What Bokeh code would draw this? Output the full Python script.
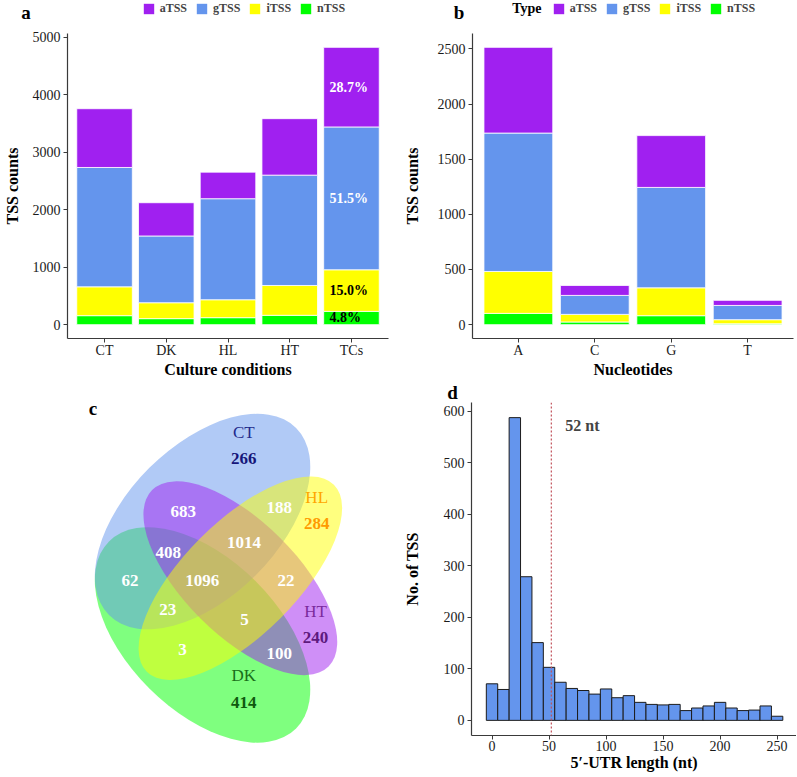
from bokeh.plotting import figure
from bokeh.models import (ColumnDataSource, FactorRange, Range1d, Legend, LegendItem,
                          Label, Span, SingleIntervalTicker)
from bokeh.layouts import row, column
from bokeh.embed import file_html
from bokeh.resources import INLINE
from bokeh.core.properties import value

FONT = "Liberation Serif"
TYPES = ["aTSS", "gTSS", "iTSS", "nTSS"]
TYPE_COLORS = {"aTSS": "#A020F0", "gTSS": "#6495ED", "iTSS": "#FFFF00", "nTSS": "#00FF00"}

# ---------------- panel a data ----------------
conditions = ["CT", "DK", "HL", "HT", "TCs"]
a_nTSS = [156, 104, 121, 162, 231]
a_iTSS = [502, 277, 312, 519, 723]
a_gTSS = [2075, 1161, 1757, 1919, 2484]
a_aTSS = [1022, 578, 462, 982, 1384]
tcs_pct = {"aTSS": "28.7%", "gTSS": "51.5%", "iTSS": "15.0%", "nTSS": "4.8%"}

# ---------------- panel b data ----------------
nucleotides = ["A", "C", "G", "T"]
b_nTSS = [102, 24, 81, 8]
b_iTSS = [380, 69, 253, 37]
b_gTSS = [1255, 172, 910, 129]
b_aTSS = [777, 90, 470, 46]

# ---------------- panel c data ----------------
venn_names = ["DK", "CT", "HT", "HL"]
venn_colors = ["#00FF00", "#6495ED", "#A020F0", "#FFFF00"]
venn_cx = [0.47, 0.47, 0.57, 0.57]
venn_cy = [0.35, 0.65, 0.50, 0.50]
venn_semi_a = [0.35, 0.35, 0.33, 0.35]
venn_semi_b = [0.20, 0.20, 0.15, 0.15]
venn_angle = [135, 45, 135, 45]
venn_cat_x = [0.579, 0.772, 0.769, 0.579]
venn_cat_y = [0.886, 0.713, 0.412, 0.242]
venn_cat_text = ["CT", "HL", "HT", "DK"]
venn_cat_color = ["#1f2a8c", "#FFA500", "#7b2a9c", "#1a6e1a"]
venn_uniq_y = [0.816, 0.644, 0.342, 0.170]
venn_uniq_text = ["266", "284", "240", "414"]
venn_uniq_color = ["#16167a", "#FF9A00", "#5e1a7e", "#0f5a0f"]
venn_num_text = ["683", "188", "1014", "408", "62", "1096", "22", "23", "5", "3", "100"]
venn_num_x = [0.419, 0.673, 0.580, 0.379, 0.278, 0.469, 0.691, 0.378, 0.581, 0.417, 0.673]
venn_num_y = [0.677, 0.687, 0.595, 0.569, 0.494, 0.494, 0.494, 0.417, 0.392, 0.312, 0.302]

# ---------------- panel d data ----------------
utr_bin_centers = [0, 10, 20, 30, 40, 50, 60, 70, 80, 90, 100, 110, 120, 130, 140, 150,
                   160, 170, 180, 190, 200, 210, 220, 230, 240, 250]
utr_counts = [71, 60, 588, 279, 151, 103, 74, 62, 58, 51, 61, 44, 48, 35, 31, 30,
              31, 19, 24, 28, 35, 24, 19, 20, 28, 8]
binwidth = 10
median_utr = 52


def blank(p):
    p.xgrid.grid_line_color = None
    p.ygrid.grid_line_color = None
    p.outline_line_color = None
    p.background_fill_color = "white"
    p.border_fill_color = "white"


def style_axes(p, xstand=0, ystand=3, xlab_stand=0, ylab_stand=0):
    for ax in p.axis:
        ax.axis_line_color = "#3a3a3a"
        ax.axis_line_width = 1.2
        ax.major_tick_line_color = "#3a3a3a"
        ax.major_tick_line_width = 1
        ax.major_tick_in = 0
        ax.major_tick_out = 4
        ax.minor_tick_line_color = None
        ax.major_label_text_font = FONT
        ax.major_label_text_font_size = "14px"
        ax.major_label_text_color = "#1a1a1a"
        ax.axis_label_text_font = FONT
        ax.axis_label_text_font_style = "bold"
        ax.axis_label_text_font_size = "16px"
        ax.axis_label_text_color = "black"
    p.xaxis.major_label_standoff = xstand
    p.yaxis.major_label_standoff = ystand
    p.xaxis.axis_label_standoff = xlab_stand
    p.yaxis.axis_label_standoff = ylab_stand
    blank(p)


def header(width, height, letter, letter_x, letter_y, legend_x=None, legend_y=None,
           legend_title=None, title_x=None, title_y=None):
    h = figure(width=width, height=height, x_range=FactorRange(factors=TYPES),
               y_range=Range1d(0, 1), output_backend="svg", toolbar_location=None,
               x_axis_location=None, y_axis_location=None, min_border=0, frame_align=False)
    blank(h)
    h.add_layout(Label(x=letter_x, y=letter_y, x_units="screen", y_units="screen",
                       text=letter, text_font=FONT, text_font_style="bold",
                       text_font_size="19px", text_baseline="alphabetic", text_color="black"))
    if legend_title:
        h.add_layout(Label(x=title_x, y=title_y, x_units="screen", y_units="screen",
                           text=legend_title, text_font=FONT, text_font_style="bold",
                           text_font_size="14px", text_baseline="alphabetic",
                           text_color="black"))
    if legend_x is not None:
        # zero-height bars: only their colours are used, by the legend swatches
        src = ColumnDataSource(dict(t=TYPES, v=[0] * len(TYPES),
                                    c=[TYPE_COLORS[t] for t in TYPES]))
        r = h.vbar(x="t", top="v", width=0.5, source=src, fill_color="c", line_color="white",
                   line_alpha=0, line_width=0.8)
        items = [LegendItem(label=t, renderers=[r], index=k) for k, t in enumerate(TYPES)]
        lg = Legend(items=items, orientation="horizontal", location=(legend_x, legend_y),
                    glyph_width=13, glyph_height=13, label_height=13, label_width=10,
                    label_standoff=5, spacing=8, padding=0, margin=0,
                    label_text_font=FONT, label_text_font_style="bold",
                    label_text_font_size="12px", label_text_baseline="middle",
                    background_fill_alpha=0, border_line_alpha=0)
        h.add_layout(lg, "center")
    return h


def stacked_panel(cats, n, i, g, a, width, height, mb_left, mb_right, xlabel, ylabel,
                  tick_interval, ylab_stand):
    totals = [w + x + y + z for w, x, y, z in zip(n, i, g, a)]
    tmax = max(totals)
    p = figure(width=width, height=height,
               x_range=FactorRange(factors=cats, range_padding=0.1, range_padding_units="absolute"),
               y_range=Range1d(-0.05 * tmax, 1.05 * tmax),
               output_backend="svg", toolbar_location=None, frame_align=False,
               min_border_left=mb_left, min_border_right=mb_right,
               min_border_top=9, min_border_bottom=41)
    src = ColumnDataSource(dict(x=cats, nTSS=n, iTSS=i, gTSS=g, aTSS=a))
    stack = ["nTSS", "iTSS", "gTSS", "aTSS"]
    p.vbar_stack(stack, x="x", width=0.9, source=src,
                 fill_color=[TYPE_COLORS[s] for s in stack],
                 line_color="white", line_width=0.8)
    style_axes(p, ylab_stand=ylab_stand)
    p.xaxis.axis_label = xlabel
    p.yaxis.axis_label = ylabel
    p.yaxis.ticker = SingleIntervalTicker(interval=tick_interval)
    return p


# ---------------- panel a ----------------
ha = header(400, 24, "a", 20.7, 12.3, 141.7, 8)
pa = stacked_panel(conditions, a_nTSS, a_iTSS, a_gTSS, a_aTSS, 400, 356, 65, 12,
                   "Culture conditions", "TSS counts", 1000, 9)
k = conditions.index("TCs")
seg_vals = [a_nTSS[k], a_iTSS[k], a_gTSS[k], a_aTSS[k]]
seg_names = ["nTSS", "iTSS", "gTSS", "aTSS"]
mids, base = [], 0
for v in seg_vals:
    mids.append(base + v / 2)
    base += v
pct_src = ColumnDataSource(dict(x=["TCs"] * 4, y=mids, text=[tcs_pct[s] for s in seg_names],
                                color=["black", "black", "white", "white"]))
pa.text(x="x", y="y", text="text", source=pct_src, text_color="color",
        text_font=value(FONT), text_font_style="bold", text_font_size="14px",
        text_align="left", text_baseline="middle", x_offset=-22)

# ---------------- panel b ----------------
hb = header(396, 24, "b", 53.3, 12.3, 151.7, 8, "Type", 111.7, 16)
pb = stacked_panel(nucleotides, b_nTSS, b_iTSS, b_gTSS, b_aTSS, 396, 356, 69, 3,
                   "Nucleotides", "TSS counts", 500, 14)

# ---------------- panel c ----------------
pc = figure(width=400, height=396, x_range=Range1d(-0.0645, 0.9937),
            y_range=Range1d(-0.0245, 1.0231), output_backend="svg", toolbar_location=None,
            x_axis_location=None, y_axis_location=None, min_border=0, frame_align=False)
blank(pc)
vsrc = ColumnDataSource(dict(x=venn_cx, y=venn_cy, w=[2 * s for s in venn_semi_a],
                             h=[2 * s for s in venn_semi_b], ang=venn_angle, c=venn_colors))
pc.ellipse(x="x", y="y", width="w", height="h", angle="ang", angle_units="deg",
           source=vsrc, fill_color="c", fill_alpha=0.5, line_color=None)
pc.text(x=venn_cat_x, y=venn_cat_y, text=venn_cat_text, text_color=venn_cat_color,
        text_font=value(FONT), text_font_size="17px", text_align="center",
        text_baseline="middle")
pc.text(x=venn_cat_x, y=venn_uniq_y, text=venn_uniq_text, text_color=venn_uniq_color,
        text_font=value(FONT), text_font_style="bold", text_font_size="17px",
        text_align="center", text_baseline="middle")
pc.text(x=venn_num_x, y=venn_num_y, text=venn_num_text, text_color="white",
        text_font=value(FONT), text_font_style="bold", text_font_size="17px",
        text_align="center", text_baseline="middle")
pc.text(x=[0.180], y=[0.948], text=["c"], text_font=value(FONT), text_font_style="bold",
        text_font_size="19px", text_align="center", text_baseline="alphabetic",
        text_color="black")

# ---------------- panel d ----------------
hd = header(396, 22, "d", 46.7, 10)
cmax = max(utr_counts)
pdd = figure(width=396, height=374,
             x_range=Range1d(utr_bin_centers[0] - binwidth / 2 - 13, 267),
             y_range=Range1d(-0.05 * cmax, 1.05 * cmax),
             output_backend="svg", toolbar_location=None, frame_align=False,
             min_border_left=71, min_border_right=0, min_border_top=0, min_border_bottom=41)
pdd.quad(left=[c - binwidth / 2 for c in utr_bin_centers],
         right=[c + binwidth / 2 for c in utr_bin_centers],
         bottom=0, top=utr_counts, fill_color="#6495ED", line_color="#1c1c1c", line_width=1)
style_axes(pdd, xstand=1, ylab_stand=20)
pdd.xaxis.axis_label = "5\u2032-UTR length (nt)"
pdd.yaxis.axis_label = "No. of TSS"
pdd.xaxis.ticker = SingleIntervalTicker(interval=50)
pdd.yaxis.ticker = SingleIntervalTicker(interval=100)
pdd.add_layout(Span(location=median_utr, dimension="height", line_color="#c0505a",
                    line_dash="2 2", line_width=1.2))
pdd.add_layout(Label(x=median_utr, y=572, x_offset=14, text=f"{median_utr} nt",
                     text_font=FONT, text_font_style="bold", text_font_size="16px",
                     text_baseline="middle"))

layout = column(row(column(ha, pa), column(hb, pb)), row(pc, column(hd, pdd)))
open("out.html", "w").write(file_html(layout, INLINE))
